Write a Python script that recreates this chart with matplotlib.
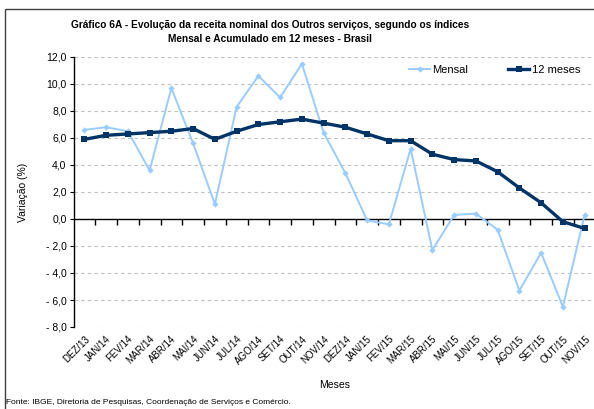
import matplotlib
matplotlib.use("Agg")
import matplotlib.pyplot as plt
from matplotlib.patches import Rectangle
from matplotlib.ticker import FuncFormatter

plt.rcParams["font.family"] = ["Liberation Sans Narrow", "Liberation Sans", "DejaVu Sans"]

meses = ["DEZ/13", "JAN/14", "FEV/14", "MAR/14", "ABR/14", "MAI/14", "JUN/14",
         "JUL/14", "AGO/14", "SET/14", "OUT/14", "NOV/14", "DEZ/14", "JAN/15",
         "FEV/15", "MAR/15", "ABR/15", "MAI/15", "JUN/15", "JUL/15", "AGO/15",
         "SET/15", "OUT/15", "NOV/15"]
mensal = [6.6, 6.8, 6.5, 3.6, 9.7, 5.6, 1.1, 8.3, 10.6, 9.0, 11.5, 6.4, 3.4,
          -0.1, -0.4, 5.2, -2.3, 0.3, 0.4, -0.8, -5.3, -2.5, -6.5, 0.3]
doze_meses = [5.9, 6.2, 6.3, 6.4, 6.5, 6.7, 5.9, 6.5, 7.0, 7.2, 7.4, 7.1, 6.8,
              6.3, 5.8, 5.8, 4.8, 4.4, 4.3, 3.5, 2.3, 1.2, -0.2, -0.7]
y_ticks = [-8, -6, -4, -2, 0, 2, 4, 6, 8, 10, 12]

W, H = 594, 409
fig = plt.figure(figsize=(W / 100, H / 100), dpi=100)
fig.patches.append(Rectangle((5 / W, -0.05), 1.2, (H - 9) / H + 0.05,
                             transform=fig.transFigure, fill=False,
                             edgecolor="#404040", linewidth=1.0))

ax = fig.add_axes([73.5 / W, (H - 327) / H, 522 / W, 270 / H])
x = list(range(len(meses)))

ax.plot(x, mensal, color="#99ccff", linewidth=1.4, marker="D", markersize=3.2,
        markeredgewidth=0, label="Mensal", zorder=3)
ax.plot(x, doze_meses, color="#003366", linewidth=2.4, marker="s", markersize=4.5,
        markeredgewidth=0, label="12 meses", zorder=4)

ax.set_xlim(-0.5, len(meses) - 0.5)
ax.set_ylim(-8, 12)
ax.set_yticks(y_ticks)
ax.yaxis.set_major_formatter(FuncFormatter(
    lambda v, p: ("- " if v < 0 else "") + f"{abs(v):.1f}".replace(".", ",")))
for v in y_ticks:
    if v != 0:
        ax.axhline(v, color="#bfbfbf", linewidth=0.8, linestyle=(0, (3, 3)), zorder=1)

for s in ["top", "right", "bottom"]:
    ax.spines[s].set_visible(False)
ax.spines["left"].set_linewidth(1.0)
ax.tick_params(axis="y", direction="out", length=3, labelsize=7.5, pad=2)
ax.set_xticks(x)
ax.set_xticklabels(meses, rotation=45, ha="right", va="top", rotation_mode="anchor",
                   fontsize=7)
ax.tick_params(axis="x", length=0, pad=5)

# eixo das categorias cruzando em 0
sec = ax.secondary_xaxis(0.4)
sec.set_xticks([i - 0.5 for i in x[1:]] + [len(meses) - 0.5])
sec.set_xticklabels([])
sec.tick_params(axis="x", direction="out", length=4, width=1.0)
sec.spines["bottom"].set_linewidth(1.0)

ax.set_ylabel("Variação (%)", fontsize=7.5, labelpad=13)
ax.set_xlabel("Meses", fontsize=7.5, labelpad=10)

fig.text(270 / W, 1 - 32 / H,
         "Gráfico 6A - Evolução da receita nominal dos Outros serviços, segundo os índices\n"
         "Mensal e Acumulado em 12 meses - Brasil",
         ha="center", va="center", fontsize=7.3, fontweight="bold", linespacing=1.45)
fig.text(6 / W, 1 - 403 / H,
         "Fonte: IBGE, Diretoria de Pesquisas, Coordenação de Serviços e Comércio.",
         ha="left", va="center", fontsize=6)

fig.legend(loc="center left", bbox_to_anchor=(409 / W, 1 - 70 / H), ncol=2,
           frameon=False, fontsize=8, handlelength=1.9, handletextpad=0.2,
           columnspacing=3.6, borderpad=0, borderaxespad=0)

fig.savefig("out.png", dpi=100)
